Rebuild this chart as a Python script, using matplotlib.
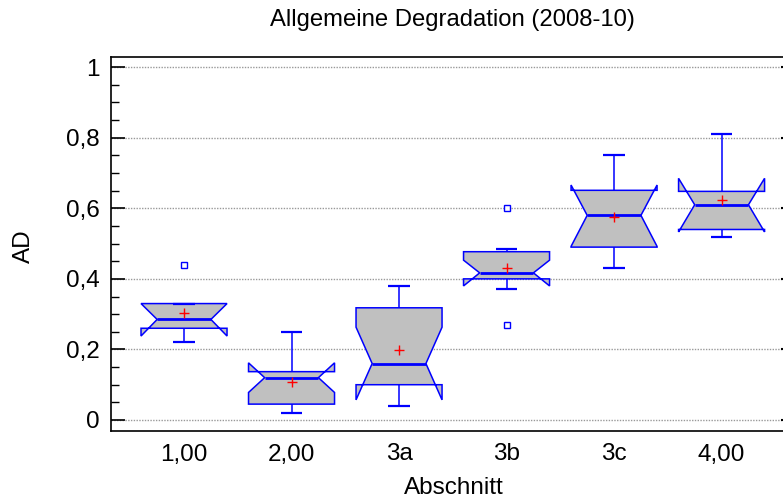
import matplotlib
matplotlib.use("Agg")
import matplotlib.pyplot as plt
from matplotlib.patches import Polygon
from matplotlib.ticker import MultipleLocator, FuncFormatter


CATEGORIES = ["1,00", "2,00", "3a", "3b", "3c", "4,00"]
WHISKER_LOW = [0.22, 0.02, 0.04, 0.37, 0.43, 0.52]
Q1 = [0.26, 0.045, 0.10, 0.40, 0.49, 0.54]
MEDIAN = [0.285, 0.12, 0.16, 0.417, 0.58, 0.61]
Q3 = [0.33, 0.137, 0.318, 0.477, 0.651, 0.648]
WHISKER_HIGH = [0.33, 0.25, 0.38, 0.486, 0.75, 0.81]
NOTCH_LOW = [0.238, 0.078, 0.057, 0.38, 0.492, 0.533]
NOTCH_HIGH = [0.33, 0.162, 0.263, 0.453, 0.666, 0.685]
MEANS = [0.302, 0.107, 0.197, 0.43, 0.574, 0.623]
OUTLIERS = [[0.44], [], [], [0.27, 0.60], [], []]

BLUE = "#0000ff"
FILL = "#c0c0c0"


def _comma(value, _pos):
    
    if abs(value) < 1e-9:
        
        return "0"
    
    if abs(value - round(value)) < 1e-9:
        
        return f"{int(round(value))}"
    
    return f"{value:.1f}".replace(".", ",")


def draw_box(ax, pos, i, half=0.4, notch_half=0.25, cap_half=0.1):
    
    left, right = pos - half, pos + half
    verts = [
        (left, Q1[i]), (right, Q1[i]), (right, NOTCH_LOW[i]),
        (pos + notch_half, MEDIAN[i]), (right, NOTCH_HIGH[i]), (right, Q3[i]),
        (left, Q3[i]), (left, NOTCH_HIGH[i]), (pos - notch_half, MEDIAN[i]),
        (left, NOTCH_LOW[i])
    ]
    ax.add_patch(Polygon(verts, closed=True, facecolor=FILL, edgecolor=BLUE,
                         linewidth=1.1, zorder=3))
    
    # median
    ax.plot([pos - notch_half, pos + notch_half], [MEDIAN[i], MEDIAN[i]],
            color=BLUE, linewidth=2.0, zorder=4, solid_capstyle="butt")
    
    # whiskers and caps
    ax.plot([pos, pos], [WHISKER_LOW[i], Q1[i]], color=BLUE, linewidth=1.1, zorder=2)
    ax.plot([pos, pos], [Q3[i], WHISKER_HIGH[i]], color=BLUE, linewidth=1.1, zorder=2)
    
    for y in (WHISKER_LOW[i], WHISKER_HIGH[i]):
        
        ax.plot([pos - cap_half, pos + cap_half], [y, y], color=BLUE,
                linewidth=1.6, zorder=4, solid_capstyle="butt")
    
    ax.plot([pos], [MEANS[i]], marker="+", color="#ff0000", markersize=7,
            markeredgewidth=1.0, zorder=5, linestyle="none")
    
    if OUTLIERS[i]:
        
        ax.plot([pos] * len(OUTLIERS[i]), OUTLIERS[i], marker="s", linestyle="none",
                markerfacecolor="white", markeredgecolor=BLUE, markersize=4,
                markeredgewidth=1.0, zorder=5)


def main():
    
    plt.rcParams["font.family"] = ["Liberation Sans", "DejaVu Sans"]
    
    fig = plt.figure(figsize=(7.83, 4.99), dpi=100)
    ax = fig.add_axes([110.7 / 783, 68 / 499, 674.3 / 783, 373.7 / 499])
    
    positions = list(range(1, len(CATEGORIES) + 1))
    
    for i, pos in enumerate(positions):
        
        draw_box(ax, pos, i)
    
    ax.set_xlim(0.318, 6.59)
    ax.set_ylim(-0.0312, 1.028)
    
    ax.set_xticks(positions)
    ax.set_xticklabels(CATEGORIES)
    ax.tick_params(axis="x", length=0, pad=9, labelsize=17.5)
    
    ax.yaxis.set_major_locator(MultipleLocator(0.2))
    ax.yaxis.set_minor_locator(MultipleLocator(0.05))
    ax.yaxis.set_major_formatter(FuncFormatter(_comma))
    ax.tick_params(axis="y", which="major", direction="in", length=10, width=1.2,
                   labelsize=17.5, pad=8)
    ax.tick_params(axis="y", which="minor", direction="in", length=5.5, width=1.0)
    
    ax.grid(axis="y", which="major", color="#999999", linestyle=(0, (1, 1)),
            linewidth=1.0, zorder=0)
    ax.set_axisbelow(True)
    
    for spine in ax.spines.values():
        
        spine.set_linewidth(1.2)
        spine.set_color("black")
    
    # short ticks on the right edge
    right = ax.twinx()
    right.set_ylim(ax.get_ylim())
    right.yaxis.set_major_locator(MultipleLocator(0.2))
    right.tick_params(axis="y", direction="in", length=3, width=1.5, labelright=False)
    
    for spine in right.spines.values():
        
        spine.set_visible(False)
    
    fig.text(452 / 783, 1 - 20 / 499, "Allgemeine Degradation (2008-10)",
             ha="center", va="center", fontsize=17.2)
    fig.text(454 / 783, 1 - 488 / 499, "Abschnitt", ha="center", va="center", fontsize=17.5)
    fig.text(24 / 783, 1 - 246 / 499, "AD", ha="center", va="center",
             rotation=90, fontsize=17.5)
    
    fig.savefig("out.png", dpi=100)
    plt.close(fig)
    
    return


if __name__ == "__main__":
    
    main()
